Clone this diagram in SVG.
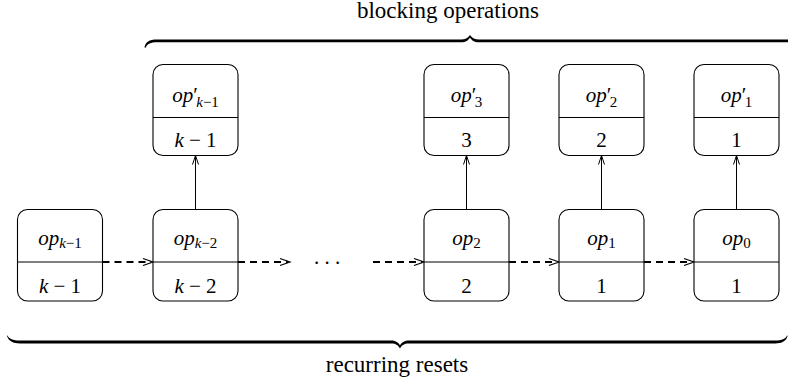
<svg xmlns="http://www.w3.org/2000/svg" width="788" height="381" viewBox="0 0 788 381">
  <!-- braces with their captions -->
  <text font-family="Liberation Serif" font-size="23" text-anchor="middle" x="448" y="18">blocking operations</text>
  <path fill="#000" d="M144.5,47.5 C145.5,42 149,39.5 157,39.5 L461,39.5 C465,39.5 468,38 470,35 C472,38 475,39.5 479,39.5 L792,39.5 L792,42.3 L479,42.3 C474,42.3 471.5,40 470,37.4 C468.5,40 466,42.3 461,42.3 L157,42.3 C151,42.3 147,44 145.6,47.8 Z"/>
  <path fill="#000" d="M7.5,335.5 C9,339 13,340.5 20,340.5 L391,340.5 C395,340.5 398.5,342 400,345.6 C401.5,342 405,340.5 409,340.5 L775,340.5 C782,340.5 785.5,339 787,335.5 L787.6,335.8 C786.5,341 782,343.5 775,343.5 L409,343.5 C404,343.5 401.5,345.5 400,348.6 C398.5,345.5 396,343.5 391,343.5 L20,343.5 C13,343.5 8.5,341 6.9,335.8 Z"/>
  <text font-family="Liberation Serif" font-size="23" text-anchor="middle" x="397" y="372">recurring resets</text>

  <!-- connectors: dashed reset links and upward blocking links, heads drawn as open chevrons -->
  <g id="connectors" fill="none" stroke="#000">
    <g stroke-width="2" stroke-dasharray="7 5">
      <path d="M102.5,262 H151"/>
      <path d="M238,262 H288"/>
      <path d="M373,262 H422"/>
      <path d="M509,262 H557"/>
      <path d="M644,262 H692"/>
    </g>
    <g stroke-width="1.2">
      <path d="M143,258.5 L153,262 L143,265.5"/>
      <path d="M280,258.5 L290,262 L280,265.5"/>
      <path d="M414,258.5 L424,262 L414,265.5"/>
      <path d="M549,258.5 L559,262 L549,265.5"/>
      <path d="M684,258.5 L694,262 L684,265.5"/>
    </g>
    <g stroke-width="1">
      <path d="M195.5,209.5 V156"/>
      <path d="M466.5,209.5 V156"/>
      <path d="M601.5,209.5 V156"/>
      <path d="M736.5,209.5 V156"/>
      <path d="M192.5,164.5 L195.5,155.5 L198.5,164.5"/>
      <path d="M463.5,164.5 L466.5,155.5 L469.5,164.5"/>
      <path d="M598.5,164.5 L601.5,155.5 L604.5,164.5"/>
      <path d="M733.5,164.5 L736.5,155.5 L739.5,164.5"/>
    </g>
  </g>

  <text font-family="Liberation Serif" font-size="21" text-anchor="middle" x="327" y="264">. . .</text>

  <!-- lower row -->
  <g id="op_k-1">
    <rect fill="#fff" stroke="#000" stroke-width="1.1" x="17.5" y="209.5" width="85" height="91.5" rx="10"/>
    <line stroke="#000" stroke-width="1.1" x1="17.5" y1="262" x2="102.5" y2="262"/>
    <text font-family="Liberation Serif" font-size="21" text-anchor="middle" x="60" y="245"><tspan font-style="italic">op</tspan><tspan font-size="15" dy="2.5"><tspan font-style="italic">k</tspan>&#x2212;1</tspan></text>
    <text font-family="Liberation Serif" font-size="21" text-anchor="middle" x="60" y="293"><tspan font-style="italic">k</tspan> &#x2212; 1</text>
  </g>
  <g id="op_k-2">
    <rect fill="#fff" stroke="#000" stroke-width="1.1" x="153" y="209.5" width="85" height="91.5" rx="10"/>
    <line stroke="#000" stroke-width="1.1" x1="153" y1="262" x2="238" y2="262"/>
    <text font-family="Liberation Serif" font-size="21" text-anchor="middle" x="195.5" y="245"><tspan font-style="italic">op</tspan><tspan font-size="15" dy="2.5"><tspan font-style="italic">k</tspan>&#x2212;2</tspan></text>
    <text font-family="Liberation Serif" font-size="21" text-anchor="middle" x="195.5" y="293"><tspan font-style="italic">k</tspan> &#x2212; 2</text>
  </g>
  <g id="op_2">
    <rect fill="#fff" stroke="#000" stroke-width="1.1" x="424" y="209.5" width="85" height="91.5" rx="10"/>
    <line stroke="#000" stroke-width="1.1" x1="424" y1="262" x2="509" y2="262"/>
    <text font-family="Liberation Serif" font-size="21" text-anchor="middle" x="466.5" y="245"><tspan font-style="italic">op</tspan><tspan font-size="15" dy="2.5">2</tspan></text>
    <text font-family="Liberation Serif" font-size="21" text-anchor="middle" x="466.5" y="293">2</text>
  </g>
  <g id="op_1">
    <rect fill="#fff" stroke="#000" stroke-width="1.1" x="559" y="209.5" width="85" height="91.5" rx="10"/>
    <line stroke="#000" stroke-width="1.1" x1="559" y1="262" x2="644" y2="262"/>
    <text font-family="Liberation Serif" font-size="21" text-anchor="middle" x="601.5" y="245"><tspan font-style="italic">op</tspan><tspan font-size="15" dy="2.5">1</tspan></text>
    <text font-family="Liberation Serif" font-size="21" text-anchor="middle" x="601.5" y="293">1</text>
  </g>
  <g id="op_0">
    <rect fill="#fff" stroke="#000" stroke-width="1.1" x="694" y="209.5" width="85" height="91.5" rx="10"/>
    <line stroke="#000" stroke-width="1.1" x1="694" y1="262" x2="779" y2="262"/>
    <text font-family="Liberation Serif" font-size="21" text-anchor="middle" x="736.5" y="245"><tspan font-style="italic">op</tspan><tspan font-size="15" dy="2.5">0</tspan></text>
    <text font-family="Liberation Serif" font-size="21" text-anchor="middle" x="736.5" y="293">1</text>
  </g>

  <!-- upper row -->
  <g id="op_prime_k-1">
    <rect fill="#fff" stroke="#000" stroke-width="1.1" x="153" y="64.5" width="85" height="91" rx="10"/>
    <line stroke="#000" stroke-width="1.1" x1="153" y1="117.5" x2="238" y2="117.5"/>
    <text font-family="Liberation Serif" font-size="21" text-anchor="middle" x="195.5" y="101.5"><tspan font-style="italic">op</tspan>&#x2032;<tspan font-size="15" dx="-1.5" dy="5"><tspan font-style="italic">k</tspan>&#x2212;1</tspan></text>
    <text font-family="Liberation Serif" font-size="21" text-anchor="middle" x="195.5" y="147"><tspan font-style="italic">k</tspan> &#x2212; 1</text>
  </g>
  <g id="op_prime_3">
    <rect fill="#fff" stroke="#000" stroke-width="1.1" x="424" y="64.5" width="85" height="91" rx="10"/>
    <line stroke="#000" stroke-width="1.1" x1="424" y1="117.5" x2="509" y2="117.5"/>
    <text font-family="Liberation Serif" font-size="21" text-anchor="middle" x="466.5" y="101.5"><tspan font-style="italic">op</tspan>&#x2032;<tspan font-size="15" dx="-1.5" dy="5">3</tspan></text>
    <text font-family="Liberation Serif" font-size="21" text-anchor="middle" x="466.5" y="147">3</text>
  </g>
  <g id="op_prime_2">
    <rect fill="#fff" stroke="#000" stroke-width="1.1" x="559" y="64.5" width="85" height="91" rx="10"/>
    <line stroke="#000" stroke-width="1.1" x1="559" y1="117.5" x2="644" y2="117.5"/>
    <text font-family="Liberation Serif" font-size="21" text-anchor="middle" x="601.5" y="101.5"><tspan font-style="italic">op</tspan>&#x2032;<tspan font-size="15" dx="-1.5" dy="5">2</tspan></text>
    <text font-family="Liberation Serif" font-size="21" text-anchor="middle" x="601.5" y="147">2</text>
  </g>
  <g id="op_prime_1">
    <rect fill="#fff" stroke="#000" stroke-width="1.1" x="694" y="64.5" width="85" height="91" rx="10"/>
    <line stroke="#000" stroke-width="1.1" x1="694" y1="117.5" x2="779" y2="117.5"/>
    <text font-family="Liberation Serif" font-size="21" text-anchor="middle" x="736.5" y="101.5"><tspan font-style="italic">op</tspan>&#x2032;<tspan font-size="15" dx="-1.5" dy="5">1</tspan></text>
    <text font-family="Liberation Serif" font-size="21" text-anchor="middle" x="736.5" y="147">1</text>
  </g>
</svg>
